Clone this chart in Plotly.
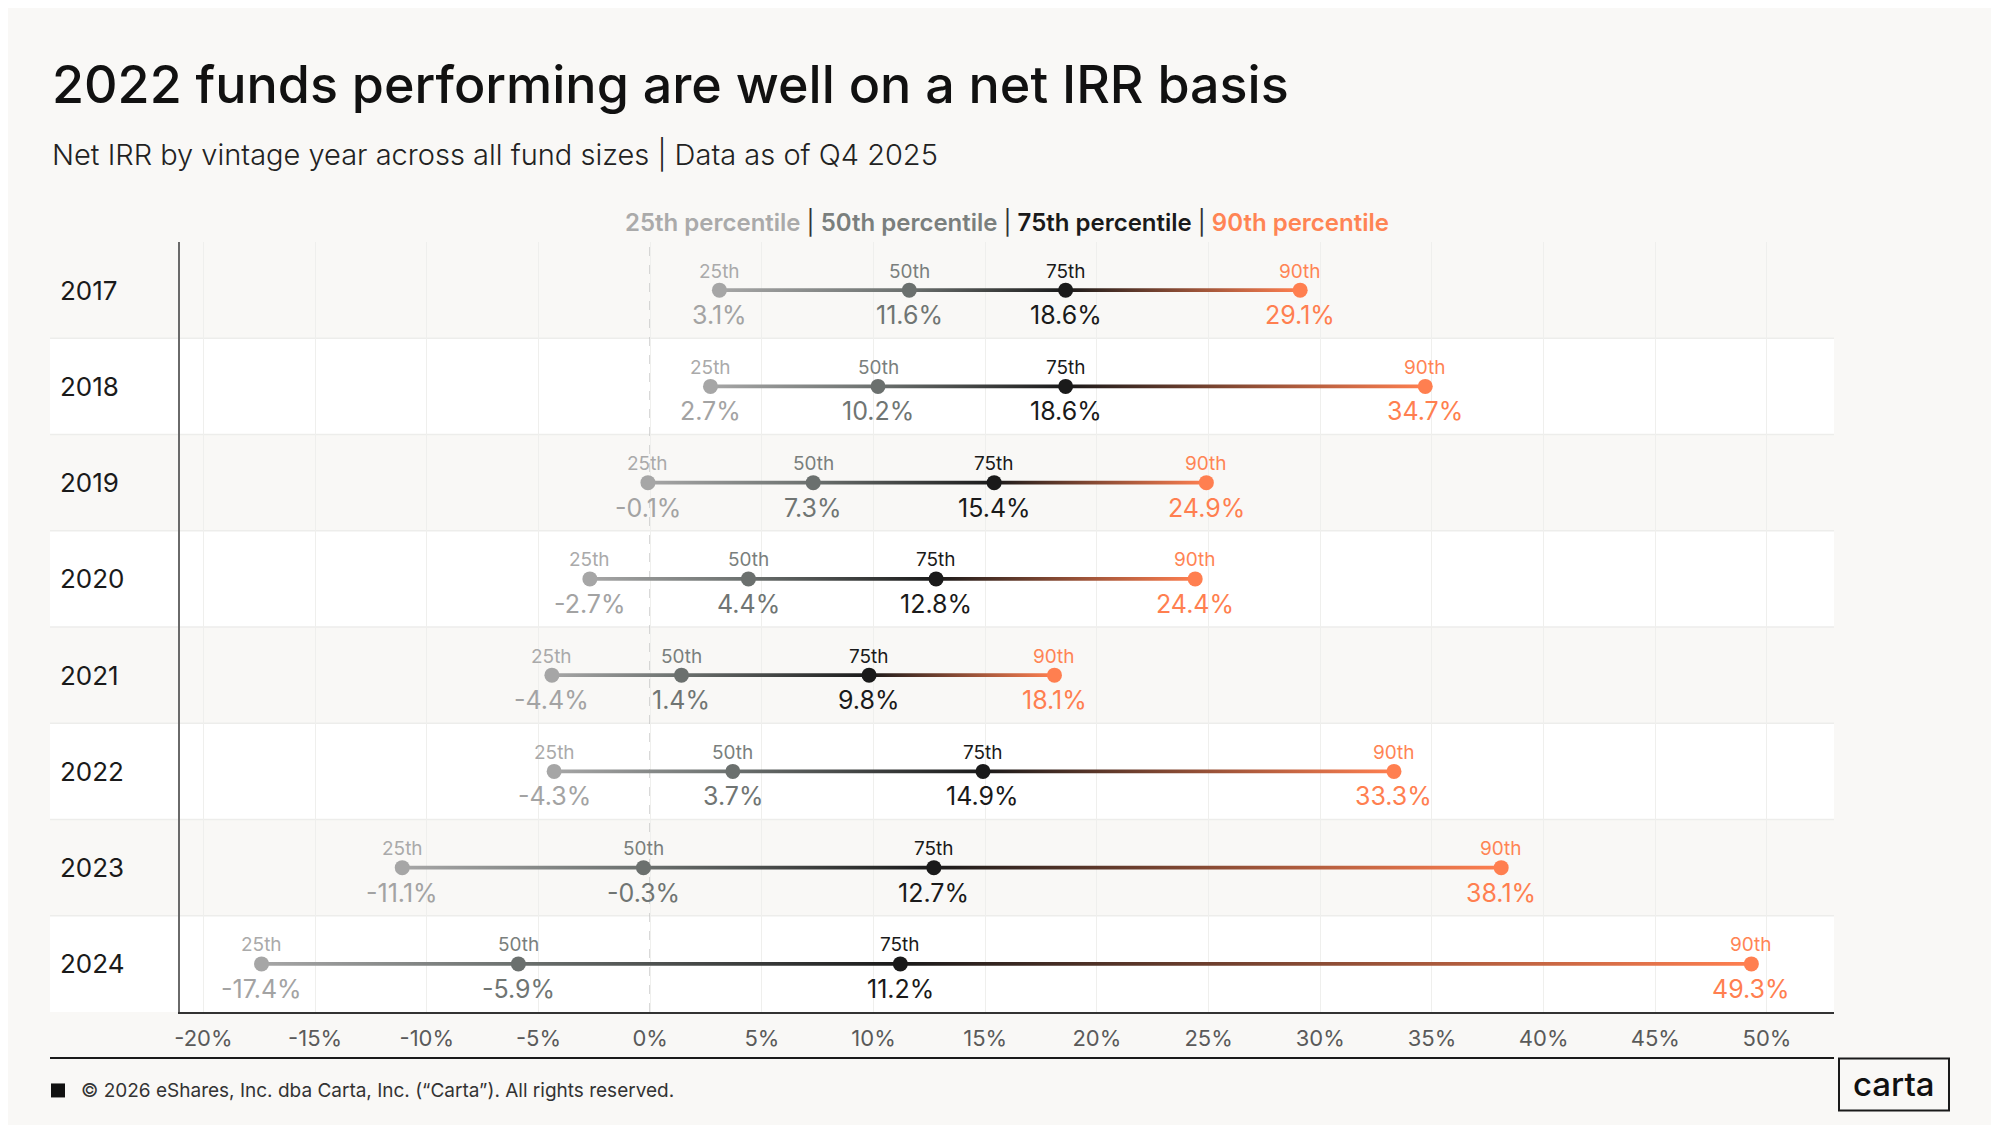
import plotly.graph_objects as go

# Net IRR percentiles by vintage year
years = ["2017", "2018", "2019", "2020", "2021", "2022", "2023", "2024"]
p25 = [3.1, 2.7, -0.1, -2.7, -4.4, -4.3, -11.1, -17.4]
p50 = [11.6, 10.2, 7.3, 4.4, 1.4, 3.7, -0.3, -5.9]
p75 = [18.6, 18.6, 15.4, 12.8, 9.8, 14.9, 12.7, 11.2]
p90 = [29.1, 34.7, 24.9, 24.4, 18.1, 33.3, 38.1, 49.3]

pct_names = ["25th", "50th", "75th", "90th"]
tick_values = [-20, -15, -10, -5, 0, 5, 10, 15, 20, 25, 30, 35, 40, 45, 50]
tick_labels = ["-20%", "-15%", "-10%", "-5%", "0%", "5%", "10%", "15%", "20%",
               "25%", "30%", "35%", "40%", "45%", "50%"]

title = "2022 funds performing are well on a net IRR basis"
subtitle = "Net IRR by vintage year across all fund sizes | Data as of Q4 2025"
footer = "© 2026 eShares, Inc. dba Carta, Inc. (“Carta”). All rights reserved."

# styles
FONT = "Inter"
BG = "#f9f8f6"
dot_colors = ["#a6a6a6", "#6b706e", "#1a1a1a", "#ff7f50"]
tag_colors = ["#aaaaaa", "#7a7f7d", "#1a1a1a", "#ff8454"]
val_colors = ["#a3a3a3", "#707573", "#1a1a1a", "#ff7f50"]

# the page body has an 8px margin, so work in page pixels and shift
OFF = 8
W, H = 1999 - OFF, 1125 - OFF
PLOT_X0, PLOT_X1, PLOT_Y0, PLOT_Y1 = 180, 1834, 242, 1012.5
L, T = PLOT_X0 - OFF, PLOT_Y0 - OFF
R, B = W - (PLOT_X1 - OFF), H - (PLOT_Y1 - OFF)
PW, PH = PLOT_X1 - PLOT_X0, PLOT_Y1 - PLOT_Y0


def px(x):
    return (x - PLOT_X0) / PW


def py(y):
    return 1 - (y - PLOT_Y0) / PH


fig = go.Figure()
n = len(years)
series = [p25, p50, p75, p90]

# gradient connector for each year
half = 1.8 / (PH / n)
for i in range(n):
    lo, hi = p25[i], p90[i]
    span = hi - lo
    cs = [[0, dot_colors[0]],
          [(p50[i] - lo) / span, dot_colors[1]],
          [(p75[i] - lo) / span, dot_colors[2]],
          [1, dot_colors[3]]]
    fig.add_trace(go.Scatter(
        x=[lo, hi, hi, lo, lo],
        y=[i - half, i - half, i + half, i + half, i - half],
        mode="lines", line=dict(width=0), fill="toself",
        fillgradient=dict(type="horizontal", colorscale=cs, start=lo, stop=hi),
        hoverinfo="skip", showlegend=False,
    ))

for k, vals in enumerate(series):
    fig.add_trace(go.Scatter(
        x=vals, y=list(range(n)), mode="markers",
        marker=dict(size=15, color=dot_colors[k]),
        name=pct_names[k], showlegend=False,
    ))
    for i, v in enumerate(vals):
        fig.add_annotation(x=v, y=i, text=pct_names[k], showarrow=False,
                           yshift=19, font=dict(family=FONT, size=19, color=tag_colors[k]))
        fig.add_annotation(x=v, y=i, text=f"{v:.1f}%", showarrow=False,
                           yshift=-25, font=dict(family=FONT, size=25, color=val_colors[k]))

shapes = []
# alternating row bands + separators
for i in range(n):
    y0, y1 = py(PLOT_Y0 + PH * (i + 1) / n), py(PLOT_Y0 + PH * i / n)
    if i % 2 == 1:
        shapes.append(dict(type="rect", xref="paper", yref="paper", x0=px(50), x1=1,
                           y0=y0, y1=y1, fillcolor="#ffffff", line=dict(width=0), layer="below"))
    if i > 0:
        shapes.append(dict(type="line", xref="paper", yref="paper", x0=px(50), x1=1,
                           y0=y1, y1=y1, line=dict(color="#ededeb", width=1.5), layer="below"))
# dashed zero line
shapes.append(dict(type="line", xref="x", yref="paper", x0=0, x1=0, y0=0, y1=1,
                   line=dict(color="#bdbdbd", width=1.5, dash="dash"), layer="below"))
# footer rule, square, logo box
shapes.append(dict(type="line", xref="paper", yref="paper", x0=px(50), x1=1,
                   y0=py(1058.5), y1=py(1058.5), line=dict(color="#1a1a1a", width=2)))
shapes.append(dict(type="rect", xref="paper", yref="paper", x0=px(51), x1=px(65),
                   y0=py(1098), y1=py(1084), fillcolor="#111111", line=dict(width=0)))
shapes.append(dict(type="rect", xref="paper", yref="paper", x0=px(1839), x1=px(1949),
                   y0=py(1111), y1=py(1059), line=dict(color="#1a1a1a", width=2)))

ann = []
for i, yr in enumerate(years):
    ann.append(dict(xref="paper", yref="y", x=px(58), y=i, text=yr, showarrow=False,
                    xanchor="left", font=dict(family=FONT, size=26, color="#1a1a1a")))

sep = "&nbsp;<span style='color:#333333;font-weight:400'>|</span>&nbsp;"
legend_txt = sep.join(
    f"<span style='color:{c}'>{p} percentile</span>" for p, c in zip(pct_names, tag_colors))
ann += [
    dict(xref="paper", yref="paper", x=px(50), y=py(84), text=title, showarrow=False,
         xanchor="left", yanchor="middle",
         font=dict(family=FONT, size=52, color="#111111", weight=500)),
    dict(xref="paper", yref="paper", x=px(50), y=py(154), text=subtitle, showarrow=False,
         xanchor="left", yanchor="middle",
         font=dict(family=FONT, size=29, color="#222222", weight=300)),
    dict(xref="paper", yref="paper", x=0.5, y=py(222), text=legend_txt, showarrow=False,
         xanchor="center", yanchor="middle",
         font=dict(family=FONT, size=24, color="#333333", weight=600)),
    dict(xref="paper", yref="paper", x=px(79), y=py(1091), text=footer, showarrow=False,
         xanchor="left", yanchor="middle",
         font=dict(family=FONT, size=19, color="#333333")),
    dict(xref="paper", yref="paper", x=px(1894), y=py(1085), text="carta", showarrow=False,
         xanchor="center", yanchor="middle",
         font=dict(family=FONT, size=33, color="#111111", weight=500)),
]
for a in ann:
    fig.add_annotation(**a)

fig.update_layout(
    width=W, height=H,
    margin=dict(l=L, r=R, t=T, b=B),
    paper_bgcolor=BG, plot_bgcolor="rgba(0,0,0,0)",
    shapes=shapes, showlegend=False,
    font=dict(family=FONT),
)
fig.update_xaxes(
    range=[-21.05, 53], tickvals=tick_values, ticktext=tick_labels,
    showgrid=True, gridcolor="#efefed", gridwidth=1.2, zeroline=False,
    showline=True, linecolor="#333333", linewidth=2,
    tickfont=dict(family=FONT, size=22, color="#5a5a5a"),
    ticks="outside", ticklen=6, tickcolor="rgba(0,0,0,0)",
)
fig.update_yaxes(
    range=[n - 0.5, -0.5], showgrid=False, zeroline=False, showticklabels=False,
    showline=True, linecolor="#6a6a6a", linewidth=2,
)

fig.write_html("out.html")
